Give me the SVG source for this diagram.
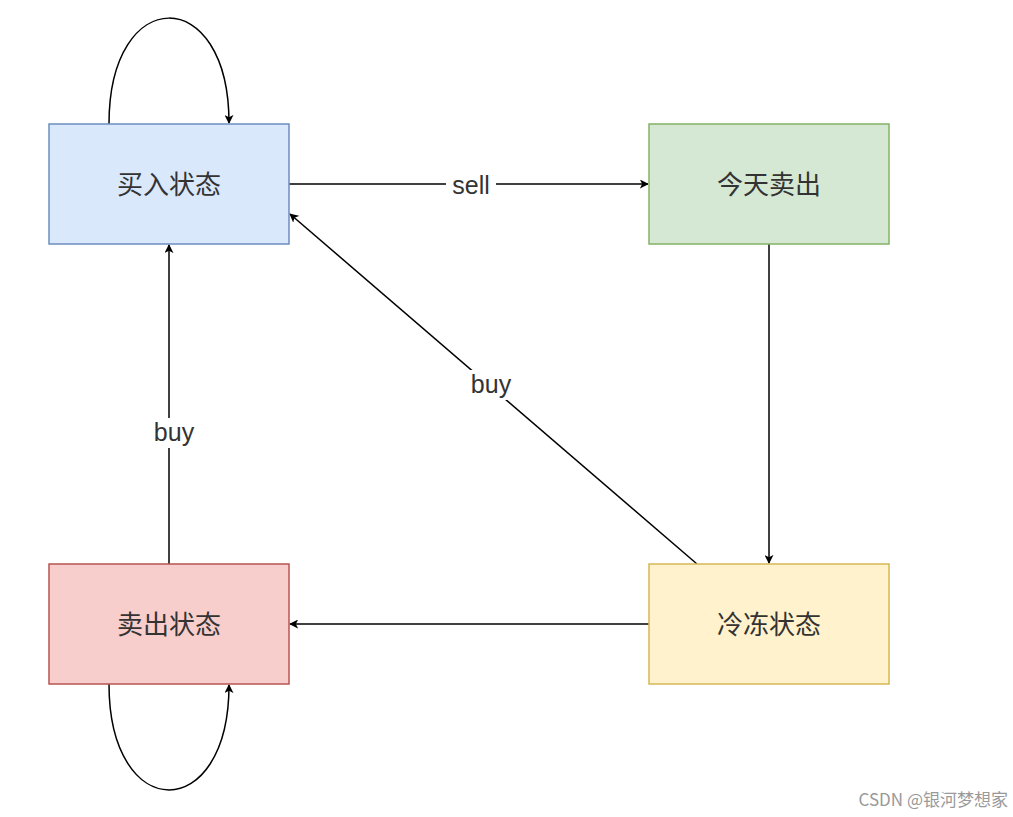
<svg xmlns="http://www.w3.org/2000/svg" width="1013" height="817" viewBox="0 0 1013 817">
<style>
.n{font-family:"Noto Sans CJK SC","Noto Sans",sans-serif;font-size:26px;fill:#333;text-anchor:middle}
.l{font-family:"Liberation Sans","Noto Sans",sans-serif;font-size:25px;fill:#333;text-anchor:middle}
.c{fill:none;stroke:#000;stroke-width:1.5;marker-end:url(#a)}
</style>
<defs><marker id="a" viewBox="0 0 10 10" refX="9" refY="5" markerWidth="9" markerHeight="9" markerUnits="userSpaceOnUse" orient="auto"><path d="M0,0L10,5L0,10L2.5,5Z" fill="#000"/></marker></defs>
<rect width="1013" height="817" fill="#fff"/>
<g id="connectors">
<path class="c" d="M109,124C109,-17 229,-17 229,123"/>
<path class="c" d="M109,684C109,825 229,825 229,685"/>
<path class="c" d="M289,184H648"/>
<path class="c" d="M769,244V563"/>
<path class="c" d="M649,624H290"/>
<path class="c" d="M169,564V245"/>
<path class="c" d="M697,564L290,214"/>
<rect x="446" y="171" width="50" height="28" fill="#fff"/>
<text class="l" x="471" y="194">sell</text>
<rect x="146" y="418" width="56" height="30" fill="#fff"/>
<text class="l" x="174" y="441">buy</text>
<rect x="462" y="370" width="58" height="30" fill="#fff"/>
<text class="l" x="491" y="393">buy</text>
</g>
<g id="buy"><rect x="49" y="124" width="240" height="120" fill="#dae8fc" stroke="#6c8ebf" stroke-width="1.5"/><text class="n" x="169" y="194">买入状态</text></g>
<g id="sold"><rect x="649" y="124" width="240" height="120" fill="#d5e8d4" stroke="#82b366" stroke-width="1.5"/><text class="n" x="769" y="194">今天卖出</text></g>
<g id="sell"><rect x="49" y="564" width="240" height="120" fill="#f8cecc" stroke="#b85450" stroke-width="1.5"/><text class="n" x="169" y="634">卖出状态</text></g>
<g id="freeze"><rect x="649" y="564" width="240" height="120" fill="#fff2cc" stroke="#d6b656" stroke-width="1.5"/><text class="n" x="769" y="634">冷冻状态</text></g>
<text x="1008" y="806" font-family="'Noto Sans CJK SC',sans-serif" font-size="17" fill="#999" text-anchor="end">CSDN @银河梦想家</text>
</svg>
